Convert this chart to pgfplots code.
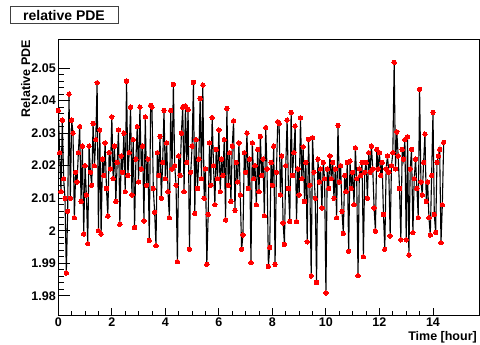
\documentclass[border=0pt]{standalone}
\usepackage{pgfplots}
\pgfplotsset{compat=1.18}
\usepackage{fontspec}
\setmainfont{Liberation Sans}
\begin{document}
\begin{tikzpicture}
\path[use as bounding box] (0pt,0pt) rectangle (480pt,345pt);
\begin{axis}[at={(58.3pt,30pt)}, anchor=south west, scale only axis,
  width=421.5pt, height=275.5pt,
  xmin=0, xmax=15.75, ymin=1.9741, ymax=2.0588,
  xtick={0,2,4,6,8,10,12,14},
  xticklabels={0,2,4,6,8,10,12,14},
  ytick={1.98,1.99,2,2.01,2.02,2.03,2.04,2.05},
  yticklabels={1.98,1.99,2,2.01,2.02,2.03,2.04,2.05},
  minor x tick num=3, minor y tick num=4,
  tick align=inside, tick pos=left,
  major tick length=12pt, minor tick length=6pt,
  xtick style={/pgfplots/major tick length=7pt, /pgfplots/minor tick length=3.5pt},
  tick style={black, line width=0.9pt},
  axis line style={line width=0.9pt},
  /pgf/number format/assume math mode=true,
  tick label style={font=\bfseries\fontsize{12.5}{14}\selectfont},
  yticklabel style={xshift=1pt},
  xticklabel style={yshift=1pt},
  clip=true,
]
\addplot[black, line width=1.1pt, mark=*, mark size=2.2pt,
  mark options={draw=red, fill=red, line width=0pt}] coordinates {
(0.00,2.037)(0.05,2.024)(0.10,2.012)(0.15,2.034)(0.20,2.016)(0.25,2.010)(0.30,1.987)(0.35,2.006)(0.40,2.042)(0.45,2.010)
(0.50,2.034)(0.55,2.030)(0.60,2.004)(0.65,2.018)(0.70,2.015)(0.75,2.024)(0.80,2.032)(0.85,2.009)(0.90,2.026)(0.95,1.999)
(1.00,2.020)(1.05,2.011)(1.10,1.996)(1.15,2.026)(1.20,2.018)(1.25,2.014)(1.30,2.033)(1.35,2.020)(1.40,2.028)(1.45,2.0455)
(1.50,2.000)(1.55,2.031)(1.60,1.999)(1.65,2.022)(1.70,2.017)(1.75,2.027)(1.80,2.013)(1.85,2.0045)(1.90,2.024)(1.95,2.019)
(2.00,2.035)(2.05,2.016)(2.10,2.026)(2.15,2.009)(2.20,2.021)(2.25,2.031)(2.30,2.002)(2.35,2.023)(2.40,2.018)(2.45,2.030)
(2.50,2.012)(2.55,2.046)(2.60,2.017)(2.65,2.024)(2.70,2.038)(2.75,2.011)(2.80,2.028)(2.85,2.001)(2.90,2.022)(2.95,2.032)
(3.00,2.015)(3.05,2.038)(3.10,2.019)(3.15,2.026)(3.20,2.003)(3.25,2.035)(3.30,2.014)(3.35,2.022)(3.40,1.997)(3.45,2.0385)
(3.50,2.038)(3.55,2.013)(3.60,2.0057)(3.65,1.9954)(3.70,2.024)(3.75,2.017)(3.80,2.029)(3.85,2.010)(3.90,2.021)(3.95,2.037)
(4.00,2.016)(4.05,2.027)(4.10,2.012)(4.15,2.004)(4.20,2.037)(4.25,2.019)(4.30,2.045)(4.35,2.020)(4.40,2.014)(4.45,1.9905)
(4.50,2.023)(4.55,2.017)(4.60,2.030)(4.65,2.038)(4.70,2.012)(4.75,2.0384)(4.80,2.021)(4.85,2.0373)(4.90,1.9943)(4.95,2.018)
(5.00,2.026)(5.05,2.0456)(5.10,2.0053)(5.15,2.028)(5.20,2.013)(5.25,2.022)(5.30,2.0407)(5.35,2.016)(5.40,2.0448)(5.45,2.010)
(5.50,2.019)(5.55,1.9897)(5.60,2.005)(5.65,2.027)(5.70,2.014)(5.75,2.0348)(5.80,2.020)(5.85,2.008)(5.90,2.025)(5.95,2.016)
(6.00,2.031)(6.05,2.012)(6.10,2.022)(6.15,2.017)(6.20,2.028)(6.25,2.0033)(6.30,2.0376)(6.35,2.014)(6.40,2.024)(6.45,2.009)
(6.50,2.026)(6.55,2.0338)(6.60,2.0063)(6.65,2.021)(6.70,2.015)(6.75,2.027)(6.80,2.011)(6.85,1.9943)(6.90,1.9987)(6.95,2.024)
(7.00,2.018)(7.05,2.030)(7.10,2.013)(7.15,2.022)(7.20,1.9902)(7.25,2.027)(7.30,2.016)(7.35,2.020)(7.40,2.008)(7.45,2.025)
(7.50,2.012)(7.55,2.029)(7.60,2.017)(7.65,2.022)(7.70,2.0046)(7.75,2.0317)(7.80,2.019)(7.85,1.989)(7.90,1.9949)(7.95,2.021)
(8.00,2.014)(8.05,2.026)(8.10,1.9897)(8.15,2.018)(8.20,2.0335)(8.25,2.033)(8.30,2.011)(8.35,2.023)(8.40,2.0024)(8.45,1.9958)
(8.50,2.020)(8.55,2.034)(8.60,2.013)(8.65,2.0029)(8.70,2.0364)(8.75,2.017)(8.80,2.024)(8.85,2.0322)(8.90,2.0028)(8.95,2.019)
(9.00,2.011)(9.05,2.0347)(9.10,2.016)(9.15,2.0258)(9.20,2.009)(9.25,2.021)(9.30,1.9966)(9.35,2.0281)(9.40,2.014)(9.45,1.9861)
(9.50,2.0286)(9.55,2.018)(9.60,2.010)(9.65,1.9841)(9.70,2.022)(9.75,2.015)(9.80,2.019)(9.85,2.007)(9.90,2.021)(9.95,2.016)
(10.00,1.9809)(10.05,2.019)(10.10,2.013)(10.15,2.023)(10.20,2.016)(10.25,2.021)(10.30,2.010)(10.35,2.019)(10.40,2.004)(10.45,2.0324)
(10.50,2.015)(10.55,2.020)(10.60,2.006)(10.65,1.9992)(10.70,2.017)(10.75,2.012)(10.80,2.021)(10.85,1.9937)(10.90,2.0214)(10.95,2.013)
(11.00,2.018)(11.05,2.008)(11.10,2.0255)(11.15,2.016)(11.20,1.9862)(11.25,2.019)(11.30,2.017)(11.35,2.021)(11.40,1.992)(11.45,2.018)
(11.50,2.021)(11.55,2.010)(11.60,2.024)(11.65,2.018)(11.70,2.026)(11.75,2.019)(11.80,2.007)(11.85,1.9999)(11.90,2.025)(11.95,2.019)
(12.00,2.024)(12.05,2.017)(12.10,2.021)(12.15,2.005)(12.20,1.9943)(12.25,2.019)(12.30,2.023)(12.35,2.018)(12.40,1.9984)(12.45,2.020)
(12.50,2.024)(12.55,2.0518)(12.60,2.019)(12.65,2.0304)(12.70,2.023)(12.75,2.013)(12.80,1.9972)(12.85,2.025)(12.90,2.022)(12.95,2.028)
(13.00,1.9972)(13.05,2.0289)(13.10,1.9925)(13.15,2.019)(13.20,2.025)(13.25,1.9994)(13.30,2.016)(13.35,2.022)(13.40,2.013)(13.45,2.004)
(13.50,2.0435)(13.55,2.015)(13.60,2.011)(13.65,2.021)(13.70,2.0297)(13.75,2.009)(13.80,2.015)(13.85,2.004)(13.90,1.9987)(13.95,2.017)
(14.00,2.0364)(14.05,2.005)(14.10,1.9995)(14.15,2.021)(14.20,2.023)(14.25,2.025)(14.30,1.9963)(14.35,2.008)(14.40,2.0272)
};
\end{axis}
\node[draw=black!75, line width=1pt, minimum width=108pt, minimum height=17pt, inner sep=0pt,
  font=\bfseries\fontsize{14}{16}\selectfont] at (64pt,329.5pt) {relative PDE};
\node[rotate=90, anchor=east, inner sep=0pt, font=\bfseries\fontsize{12.5}{14}\selectfont]
  at (25.7pt,305pt) {Relative PDE};
\node[anchor=base east, inner sep=0pt, font=\bfseries\fontsize{12.5}{14}\selectfont]
  at (477pt,4pt) {Time [hour]};
\end{tikzpicture}
\end{document}
